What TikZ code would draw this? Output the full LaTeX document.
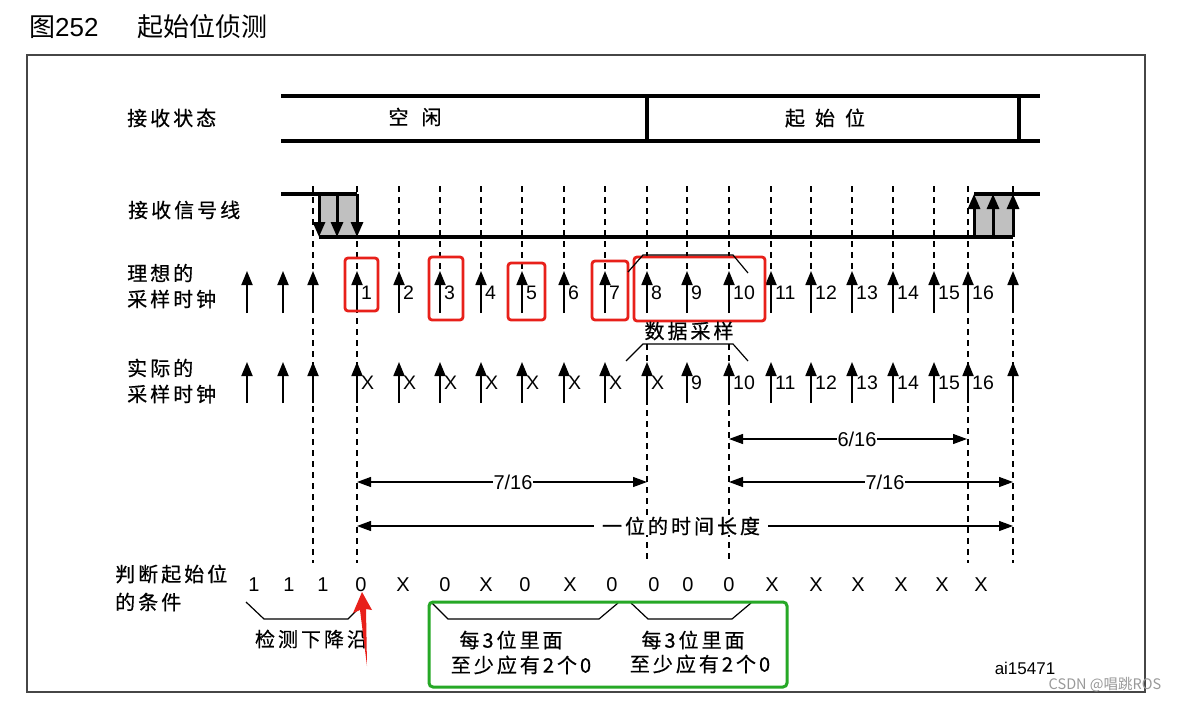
\documentclass[tikz,border=0pt]{standalone}
\usepackage{fontspec}
\setmainfont{Liberation Sans}
\newfontfamily\cjk[LetterSpace=15,FakeBold=0.6]{Noto Sans CJK SC}
\newfontfamily\cjkplain{Noto Sans CJK SC}
\usetikzlibrary{arrows.meta}

\definecolor{boxred}{RGB}{232,32,26}
\definecolor{boxgreen}{RGB}{38,168,38}
\definecolor{sigfill}{RGB}{192,192,192}
\definecolor{framegray}{RGB}{70,70,70}

\begin{document}
\begin{tikzpicture}[x=1pt, y=-1pt,
		clk/.style={line width=1.8pt, -{Triangle[length=14pt,width=11pt]}},
		sigline/.style={line width=3.6pt},
		sigarrow/.style={line width=3pt, -{Triangle[length=15pt,width=12pt]}},
		cutline/.style={line width=1.3pt, dash pattern=on 6pt off 5pt},
		dimline/.style={line width=1.2pt, {Triangle[length=14pt,width=10pt]}-{Triangle[length=14pt,width=10pt]}},
		bracket/.style={line width=1.2pt},
		redbox/.style={draw=boxred, line width=2.8pt, rounded corners=3pt},
		num/.style={font=\fontsize{19.5}{21}\selectfont, anchor=west, inner sep=0pt},
		bit/.style={font=\fontsize{20}{22}\selectfont, inner sep=0pt},
		hz/.style={font=\cjk\fontsize{20}{22}\selectfont, inner sep=0pt},
		lhz/.style={hz, anchor=west},
		dimlbl/.style={font=\fontsize{20}{22}\selectfont, fill=white, inner xsep=1pt, inner ysep=1pt}
	]
	\fill[white] (0,0) rectangle (1177,701);
	\useasboundingbox (0,0) rectangle (1177,701);

	% title and frame
	\node (fig)[anchor=west, font=\fontsize{26}{28}\selectfont, inner sep=0pt] at (29,27) {{\cjkplain 图}252};
	\node (ttl)[anchor=west, font=\cjkplain\fontsize{26}{28}\selectfont, inner sep=0pt] at (137,27) {起始位侦测};
	\draw[framegray, line width=2pt] (27,55) rectangle (1145,692);

	% row labels
	\node (rs)[lhz] at (127,118) {接收状态};
	\node (rl)[lhz] at (128,210) {接收信号线};
	\node (ic1)[lhz] at (127,273) {理想的};
	\node (ic2)[lhz] at (127,299) {采样时钟};
	\node (ac1)[lhz] at (127,368) {实际的};
	\node (ac2)[lhz] at (127,394) {采样时钟};
	\node (jc1)[lhz] at (115,574) {判断起始位};
	\node (jc2)[lhz] at (115,602) {的条件};

	% dashed sample lines
	\draw[cutline] (313,186) -- (313,563);
	\draw[cutline] (357,186) -- (357,563);
	\draw[cutline] (399,186) -- (399,272);
	\draw[cutline] (440,186) -- (440,272);
	\draw[cutline] (481,186) -- (481,272);
	\draw[cutline] (522,186) -- (522,272);
	\draw[cutline] (564,186) -- (564,272);
	\draw[cutline] (605,186) -- (605,272);
	\draw[cutline] (647,186) -- (647,272);
	\draw[cutline] (687,186) -- (687,272);
	\draw[cutline] (729,186) -- (729,272);
	\draw[cutline] (771,186) -- (771,272);
	\draw[cutline] (811,186) -- (811,272);
	\draw[cutline] (852,186) -- (852,272);
	\draw[cutline] (893,186) -- (893,272);
	\draw[cutline] (934,186) -- (934,272);
	\draw[cutline] (968,186) -- (968,563);
	\draw[cutline] (1013,186) -- (1013,563);
	\draw[cutline] (647,344) -- (647,563);
	\draw[cutline] (729,344) -- (729,563);

	% receive state
	\draw[sigline] (281,96) -- (1040,96);
	\draw[sigline] (281,141) -- (1040,141);
	\draw[sigline] (647,96) -- (647,141);
	\draw[sigline] (1019,96) -- (1019,141);
	\node (idle)[hz] at (415,117) {空\hspace{13pt}闲};
	\node (start)[hz] at (825,118) {起\hspace{10pt}始\hspace{10pt}位};

	% receive line
	\fill[sigfill] (319,194) rectangle (357,237);
	\fill[sigfill] (974,194) rectangle (1013,237);
	\draw[sigline] (281,194) -- (357,194);
	\draw[sigline] (319,237) -- (1013,237);
	\draw[sigline] (974,194) -- (1040,194);
	\draw[sigarrow] (319,194) -- (319,237);
	\draw[sigarrow] (337,194) -- (337,237);
	\draw[sigarrow] (357,194) -- (357,237);
	\draw[sigarrow] (974,237) -- (974,194);
	\draw[sigarrow] (993,237) -- (993,194);
	\draw[sigarrow] (1013,237) -- (1013,194);

	% ideal sampling clock
	\draw[clk] (247,313) -- (247,271);
	\draw[clk] (283,313) -- (283,271);
	\draw[clk] (313,313) -- (313,271);
	\draw[clk] (357,313) -- (357,271);
	\draw[clk] (399,313) -- (399,271);
	\draw[clk] (440,313) -- (440,271);
	\draw[clk] (481,313) -- (481,271);
	\draw[clk] (522,313) -- (522,271);
	\draw[clk] (564,313) -- (564,271);
	\draw[clk] (605,313) -- (605,271);
	\draw[clk] (647,313) -- (647,271);
	\draw[clk] (687,313) -- (687,271);
	\draw[clk] (729,313) -- (729,271);
	\draw[clk] (771,313) -- (771,271);
	\draw[clk] (811,313) -- (811,271);
	\draw[clk] (852,313) -- (852,271);
	\draw[clk] (893,313) -- (893,271);
	\draw[clk] (934,313) -- (934,271);
	\draw[clk] (968,313) -- (968,271);
	\draw[clk] (1013,313) -- (1013,271);
	\node (i1)[num] at (361,293) {1};
	\node (i2)[num] at (403,293) {2};
	\node (i3)[num] at (444,293) {3};
	\node (i4)[num] at (485,293) {4};
	\node (i5)[num] at (526,293) {5};
	\node (i6)[num] at (568,293) {6};
	\node (i7)[num] at (609,293) {7};
	\node (i8)[num] at (651,293) {8};
	\node (i9)[num] at (691,293) {9};
	\node (i10)[num] at (733,293) {10};
	\node (i11)[num] at (775,293) {11};
	\node (i12)[num] at (815,293) {12};
	\node (i13)[num] at (856,293) {13};
	\node (i14)[num] at (897,293) {14};
	\node (i15)[num] at (938,293) {15};
	\node (i16)[num] at (972,293) {16};

	% highlighted samples
	\draw[redbox] (345,258) rectangle (378,311);
	\draw[redbox] (429,257) rectangle (463,320);
	\draw[redbox] (508,263) rectangle (545,320);
	\draw[redbox] (592,261) rectangle (628,320);
	\draw[redbox] (634,257) rectangle (765,321);

	% data sampling bracket
	\draw[bracket] (628,272) -- (643,255) -- (733,255) -- (748,273);
	\node (ds)[hz] at (689,331) {数据采样};
	\draw[bracket] (626,361) -- (643,344) -- (733,344) -- (748,361);

	% actual sampling clock
	\draw[clk] (247,403) -- (247,362);
	\draw[clk] (283,403) -- (283,362);
	\draw[clk] (313,403) -- (313,362);
	\draw[clk] (357,403) -- (357,362);
	\draw[clk] (399,403) -- (399,362);
	\draw[clk] (440,403) -- (440,362);
	\draw[clk] (481,403) -- (481,362);
	\draw[clk] (522,403) -- (522,362);
	\draw[clk] (564,403) -- (564,362);
	\draw[clk] (605,403) -- (605,362);
	\draw[clk] (647,403) -- (647,362);
	\draw[clk] (687,403) -- (687,362);
	\draw[clk] (729,403) -- (729,362);
	\draw[clk] (771,403) -- (771,362);
	\draw[clk] (811,403) -- (811,362);
	\draw[clk] (852,403) -- (852,362);
	\draw[clk] (893,403) -- (893,362);
	\draw[clk] (934,403) -- (934,362);
	\draw[clk] (968,403) -- (968,362);
	\draw[clk] (1013,403) -- (1013,362);
	\node (a1)[num] at (361,383) {X};
	\node (a2)[num] at (403,383) {X};
	\node (a3)[num] at (444,383) {X};
	\node (a4)[num] at (485,383) {X};
	\node (a5)[num] at (526,383) {X};
	\node (a6)[num] at (568,383) {X};
	\node (a7)[num] at (609,383) {X};
	\node (a8)[num] at (651,383) {X};
	\node (a9)[num] at (691,383) {9};
	\node (a10)[num] at (733,383) {10};
	\node (a11)[num] at (775,383) {11};
	\node (a12)[num] at (815,383) {12};
	\node (a13)[num] at (856,383) {13};
	\node (a14)[num] at (897,383) {14};
	\node (a15)[num] at (938,383) {15};
	\node (a16)[num] at (972,383) {16};

	% bit timing
	\draw[dimline] (729,439) -- (967,439);
	\node (d6)[dimlbl] at (857,439) {6/16};
	\draw[dimline] (357,482) -- (647,482);
	\node (d7a)[dimlbl] at (513,482) {7/16};
	\draw[dimline] (729,482) -- (1013,482);
	\node (d7b)[dimlbl] at (885,482) {7/16};
	\draw[dimline] (357,526) -- (1013,526);
	\node (bitlen)[hz, fill=white, inner xsep=8pt] at (681,526) {一位的时间长度};

	% start bit condition
	\node (b1)[bit] at (254,585) {1};
	\node (b2)[bit] at (289,585) {1};
	\node (b3)[bit] at (323,585) {1};
	\node (b4)[bit] at (361,585) {0};
	\node (b5)[bit] at (403,585) {X};
	\node (b6)[bit] at (445,585) {0};
	\node (b7)[bit] at (486,585) {X};
	\node (b8)[bit] at (525,585) {0};
	\node (b9)[bit] at (570,585) {X};
	\node (b10)[bit] at (612,585) {0};
	\node (b11)[bit] at (654,585) {0};
	\node (b12)[bit] at (688,585) {0};
	\node (b13)[bit] at (729,585) {0};
	\node (b14)[bit] at (772,585) {X};
	\node (b15)[bit] at (816,585) {X};
	\node (b16)[bit] at (858,585) {X};
	\node (b17)[bit] at (901,585) {X};
	\node (b18)[bit] at (942,585) {X};
	\node (b19)[bit] at (981,585) {X};

	\draw[bracket] (246,602) -- (264,619) -- (348,619) -- (364,603);
	\node (fe)[hz] at (311,639) {检测下降沿};
	\draw[bracket] (432,603) -- (448,619) -- (599,619) -- (618,603);
	\draw[bracket] (631,603) -- (648,619) -- (732,619) -- (751,603);
	\node (g1a)[hz] at (511,640) {每3位里面};
	\node (g1b)[hz] at (521,665) {至少应有2个0};
	\node (g2a)[hz] at (693,640) {每3位里面};
	\node (g2b)[hz] at (700,664) {至少应有2个0};
	\draw[draw=boxgreen, line width=3pt, rounded corners=4pt] (429,602) rectangle (787,687);

	% marker arrow
	\fill[boxred] (362,592) -- (372,610) -- (366,609) -- (367,666) -- (360,610) -- (353,613) -- cycle;

	\node (ai)[font=\fontsize{17}{19}\selectfont] at (1025,668) {ai15471};
	\node (wm)[font=\cjkplain\fontsize{14.5}{16}\selectfont, text=black!40] at (1105,685) {CSDN @唱跳ROS};
\end{tikzpicture}
\end{document}
